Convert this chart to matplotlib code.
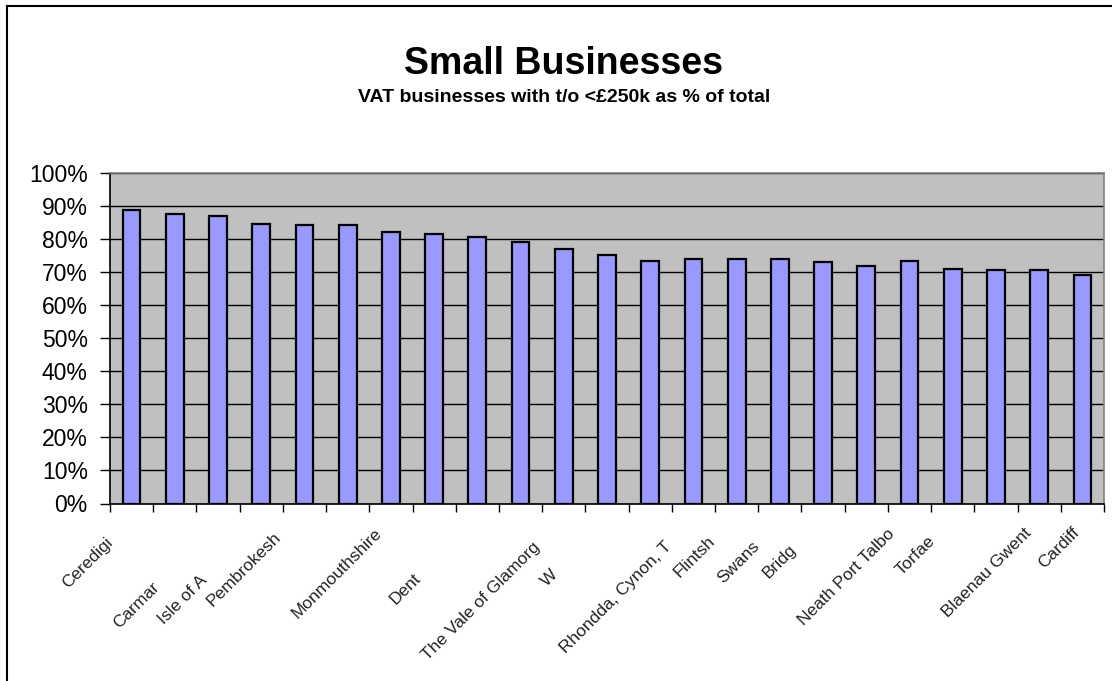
import matplotlib
matplotlib.use("Agg")
import matplotlib.pyplot as plt
from matplotlib.lines import Line2D
from matplotlib.ticker import FuncFormatter, FixedLocator

plt.rcParams['font.family'] = ['Liberation Sans', 'DejaVu Sans']

# ---- data ----
areas = ["Ceredigion", "Carmarthenshire", "Isle of Anglesey", "Pembrokeshire",
         "Gwynedd", "Monmouthshire", "Conwy", "Denbighshire", "Powys",
         "The Vale of Glamorgan", "Wales", "Wrexham", "Rhondda, Cynon, Taff",
         "Flintshire", "Swansea", "Bridgend", "Merthyr Tydfil",
         "Neath Port Talbot", "Torfaen", "Caerphilly", "Newport",
         "Blaenau Gwent", "Cardiff"]
share_small = [0.888, 0.875, 0.870, 0.846, 0.843, 0.842, 0.821, 0.816, 0.806,
               0.792, 0.769, 0.753, 0.735, 0.740, 0.740, 0.739, 0.731,
               0.719, 0.735, 0.711, 0.705, 0.708, 0.690]
# tick labels as they appear (clipped) in the original chart
tick_labels = ["Ceredigi", "Carmar", "Isle of A", "Pembrokesh", "", "Monmouthshire",
               "", "Dent", "", "The Vale of Glamorg", "W", "", "Rhondda, Cynon, T",
               "Flintsh", "Swans", "Bridg", "", "Neath Port Talbo", "Torfae", "",
               "", "Blaenau Gwent", "Cardiff"]
y_ticks = [0.0, 0.1, 0.2, 0.3, 0.4, 0.5, 0.6, 0.7, 0.8, 0.9, 1.0]

# label end offsets (pixels) relative to each category centre on the x axis
label_offsets = [(-26, -31), (-23, -76), (-19, -69), (12, -26), (0, 0), (26, -22),
                 (0, 0), (-21, -67), (0, 0), (12, -36), (-14, -63), (0, 0),
                 (14, -35), (14, -30), (15, -35), (9, -38), (0, 0), (21, -23),
                 (18, -30), (0, 0), (0, 0), (-16, -22), (-11, -21)]

W, H = 1112, 681
fig = plt.figure(figsize=(W / 100, H / 100), dpi=100)
fig.patch.set_facecolor("white")

ax = fig.add_axes([110 / W, 1 - 503.5 / H, (1104 - 110) / W, (503.5 - 173) / H])
ax.set_facecolor("#C0C0C0")

x = list(range(len(areas)))
ax.bar(x, share_small, width=0.41, color="#9999FF", edgecolor="black",
       linewidth=1.6, zorder=3)

ax.set_xlim(-0.5, len(areas) - 0.5)
ax.set_ylim(0, 1)
ax.yaxis.set_major_locator(FixedLocator(y_ticks))
ax.yaxis.set_major_formatter(FuncFormatter(lambda v, p: f"{v * 100:.0f}%"))
ax.grid(axis="y", color="black", linewidth=1.0, zorder=1)
ax.set_axisbelow(True)

ax.set_xticks([i - 0.5 for i in range(len(areas) + 1)])
ax.set_xticklabels([])
ax.tick_params(axis="x", direction="out", length=6, width=1, color="black")
ax.tick_params(axis="y", direction="out", length=7, width=1, color="black",
               labelsize=16.5, pad=9)

for side in ["top", "right"]:
    ax.spines[side].set_color("#808080")
    ax.spines[side].set_linewidth(1.2)
for side in ["left", "bottom"]:
    ax.spines[side].set_color("black")
    ax.spines[side].set_linewidth(1.2)

for i, (lab, (dx, dy)) in enumerate(zip(tick_labels, label_offsets)):
    if not lab:
        continue
    ax.annotate(lab, xy=(i, 0), xycoords=("data", "axes fraction"),
                xytext=(dx, dy), textcoords="offset pixels",
                rotation=45, rotation_mode="anchor", ha="right", va="top",
                fontsize=12.5, color="#222222", annotation_clip=False)

fig.text(564 / W, 1 - 74 / H, "Small Businesses", ha="center", va="baseline",
         fontsize=27, fontweight="bold")
fig.text(564 / W, 1 - 101.5 / H, "VAT businesses with t/o <£250k as % of total",
         ha="center", va="baseline", fontsize=14, fontweight="bold")

# outer chart border (left and top visible)
fig.add_artist(Line2D([6.5 / W, 6.5 / W], [0, 1 - 5.5 / H], color="black",
                      linewidth=1.5, transform=fig.transFigure))
fig.add_artist(Line2D([6.5 / W, 1], [1 - 5.5 / H, 1 - 5.5 / H], color="black",
                      linewidth=1.5, transform=fig.transFigure))

fig.savefig("out.png", dpi=100)
